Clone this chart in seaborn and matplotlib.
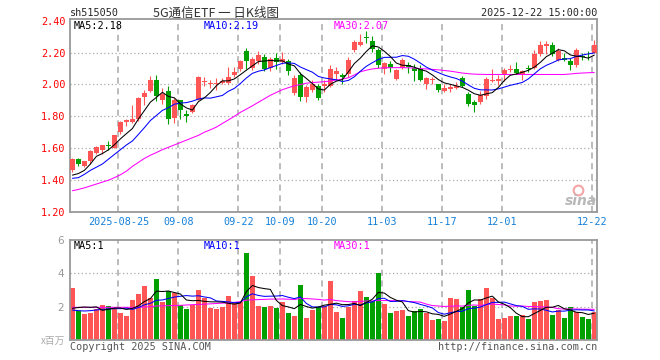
import numpy as np
import pandas as pd
import matplotlib
matplotlib.use("Agg")
import matplotlib.pyplot as plt
import seaborn as sns

# daily K-line of sh515050
open_ = [1.46, 1.53, 1.49, 1.52, 1.57, 1.585, 1.62, 1.60, 1.70, 1.765,
         1.765, 1.78, 1.92, 1.96, 2.03, 1.90, 1.96, 1.79, 1.90, 1.815,
         1.825, 1.90, 2.015, 2.00, 2.005, 2.01, 2.01, 2.06, 2.10, 2.21,
         2.105, 2.145, 2.17, 2.105, 2.165, 2.14, 2.15, 1.945, 2.06, 1.92,
         1.965, 1.99, 1.99, 1.99, 2.065, 2.06, 2.065, 2.22, 2.25, 2.30,
         2.275, 2.215, 2.10, 2.13, 2.035, 2.105, 2.125, 2.105, 2.10, 2.00,
         2.03, 2.00, 1.96, 1.97, 1.975, 2.04, 1.94, 1.89, 1.89, 1.93,
         2.025, 2.025, 2.06, 2.09, 2.095, 2.065, 2.10, 2.105, 2.19, 2.245,
         2.25, 2.155, 2.165, 2.145, 2.12, 2.18, 2.175, 2.20]
high = [1.54, 1.535, 1.52, 1.59, 1.615, 1.62, 1.645, 1.685, 1.77, 1.78,
        1.87, 1.92, 1.963, 2.053, 2.06, 1.98, 1.99, 1.913, 1.90, 1.84,
        1.88, 2.055, 2.05, 2.03, 2.04, 2.04, 2.11, 2.11, 2.155, 2.23,
        2.175, 2.21, 2.19, 2.175, 2.20, 2.206, 2.16, 2.06, 2.076, 1.997,
        2.03, 2.005, 2.03, 2.12, 2.11, 2.07, 2.17, 2.28, 2.32, 2.336,
        2.307, 2.23, 2.143, 2.145, 2.10, 2.165, 2.14, 2.127, 2.12, 2.049,
        2.05, 2.00, 2.00, 2.005, 2.015, 2.055, 1.95, 1.902, 1.96, 2.05,
        2.10, 2.06, 2.105, 2.125, 2.14, 2.09, 2.12, 2.217, 2.273, 2.273,
        2.27, 2.227, 2.20, 2.164, 2.227, 2.196, 2.21, 2.28]
low = [1.45, 1.49, 1.48, 1.50, 1.56, 1.56, 1.59, 1.60, 1.69, 1.74,
       1.755, 1.77, 1.87, 1.95, 1.896, 1.875, 1.753, 1.756, 1.783, 1.766,
       1.82, 1.90, 1.99, 1.98, 1.965, 2.00, 2.00, 2.05, 2.085, 2.10,
       2.09, 2.127, 2.085, 2.085, 2.10, 2.13, 2.06, 1.935, 1.896, 1.888,
       1.95, 1.905, 1.95, 1.985, 2.03, 2.00, 2.05, 2.205, 2.24, 2.26,
       2.206, 2.105, 2.064, 2.08, 2.03, 2.10, 2.07, 2.02, 2.02, 1.97,
       2.00, 1.95, 1.95, 1.95, 1.97, 1.985, 1.865, 1.825, 1.88, 1.909,
       2.015, 1.995, 2.02, 2.08, 2.064, 2.03, 2.08, 2.096, 2.18, 2.19,
       2.18, 2.148, 2.145, 2.09, 2.112, 2.155, 2.155, 2.195]
close = [1.53, 1.50, 1.52, 1.58, 1.61, 1.62, 1.615, 1.68, 1.765, 1.775,
         1.78, 1.915, 1.945, 2.03, 1.925, 1.94, 1.785, 1.90, 1.84, 1.80,
         1.87, 2.05, 2.02, 2.01, 2.01, 2.025, 2.05, 2.08, 2.145, 2.15,
         2.16, 2.185, 2.10, 2.16, 2.14, 2.16, 2.085, 2.04, 1.92, 1.985,
         2.00, 1.915, 2.005, 2.10, 2.085, 2.05, 2.155, 2.27, 2.27, 2.295,
         2.225, 2.12, 2.135, 2.105, 2.09, 2.155, 2.11, 2.085, 2.03, 2.04,
         2.035, 1.965, 1.98, 1.985, 1.99, 1.99, 1.875, 1.87, 1.935, 2.035,
         2.03, 2.035, 2.09, 2.10, 2.075, 2.085, 2.095, 2.19, 2.25, 2.255,
         2.19, 2.21, 2.155, 2.12, 2.215, 2.17, 2.17, 2.25]
# volume, x百万
volume = [3.14, 1.72, 1.58, 1.64, 1.86, 2.10, 2.04, 1.94, 1.64, 1.44,
          2.42, 2.78, 3.26, 2.52, 3.68, 2.30, 2.94, 2.80, 2.08, 1.88,
          2.08, 3.02, 2.54, 1.94, 1.86, 2.00, 2.66, 2.30, 2.30, 5.24,
          3.86, 2.04, 1.98, 2.06, 1.94, 2.30, 1.64, 1.46, 3.32, 1.34,
          1.80, 1.96, 2.04, 3.56, 1.70, 1.34, 2.00, 2.36, 2.94, 2.60,
          2.34, 4.04, 2.16, 1.64, 1.76, 1.80, 1.44, 1.74, 1.84, 1.64,
          1.20, 1.26, 1.16, 2.52, 2.46, 2.00, 3.00, 2.04, 2.46, 3.12,
          2.54, 1.28, 1.34, 1.44, 1.44, 1.50, 1.26, 2.30, 2.36, 2.40,
          1.50, 1.80, 1.32, 2.00, 1.70, 1.38, 1.26, 1.70]

# moving averages where the window starts before the chart
ma5_head = [1.43, 1.44, 1.46, 1.50]
ma10_head = [1.41, 1.414, 1.435, 1.46, 1.48, 1.50, 1.53, 1.56, 1.59]
ma30 = [1.332, 1.34, 1.35, 1.362, 1.374, 1.386, 1.398, 1.414, 1.432, 1.455,
        1.485, 1.51, 1.535, 1.555, 1.572, 1.59, 1.605, 1.62, 1.635, 1.65,
        1.665, 1.68, 1.70, 1.715, 1.732, 1.755, 1.777, 1.80, 1.825, 1.845,
        1.866, 1.888, 1.91, 1.932, 1.95, 1.967, 1.98, 1.992, 2.00, 2.008,
        2.012, 2.015, 2.018, 2.022, 2.028, 2.034, 2.042, 2.06, 2.08, 2.09,
        2.098, 2.102, 2.105, 2.106, 2.106, 2.106, 2.105, 2.103, 2.10, 2.098,
        2.095, 2.092, 2.088, 2.084, 2.078, 2.072, 2.068, 2.065, 2.064, 2.063,
        2.063, 2.063, 2.063, 2.063, 2.063, 2.063, 2.063, 2.063, 2.063, 2.063,
        2.063, 2.063, 2.063, 2.066, 2.07, 2.072, 2.074, 2.075]
vol_ma5_head = [1.90, 1.95, 1.98, 1.96]
vol_ma10_head = [1.80, 1.76, 1.74, 1.76, 1.80, 1.84, 1.86, 1.88, 1.88]
vol_ma30_head = [1.96] * 12 + [1.98, 2.00, 2.04, 2.05, 2.06, 2.07, 2.08, 2.10,
                               2.12, 2.13, 2.15, 2.17, 2.19, 2.21, 2.23, 2.26, 2.30]

tick_dates = ["2025-08-25", "2025-09-08", "2025-09-22", "2025-10-09", "2025-10-20",
              "2025-11-03", "2025-11-17", "2025-12-01", "2025-12-22"]
tick_labels = ["2025-08-25", "09-08", "09-22", "10-09", "10-20",
               "11-03", "11-17", "12-01", "12-22"]

# trading days (national day holiday closed)
dates = pd.bdate_range("2025-08-13", "2025-12-22")
dates = dates[~dates.isin(pd.date_range("2025-10-01", "2025-10-08"))]

df = pd.DataFrame({"date": dates, "open": open_, "high": high, "low": low,
                   "close": close, "volume": volume, "ma30": ma30})
df["x"] = np.arange(len(df))


def rolling_with_head(s, n, head):
    m = s.rolling(n).mean()
    m.iloc[:len(head)] = head
    return m


df["ma5"] = rolling_with_head(df["close"], 5, ma5_head)
df["ma10"] = rolling_with_head(df["close"], 10, ma10_head)
df["vma5"] = rolling_with_head(df["volume"], 5, vol_ma5_head)
df["vma10"] = rolling_with_head(df["volume"], 10, vol_ma10_head)
df["vma30"] = rolling_with_head(df["volume"], 30, vol_ma30_head)

RED = "#ff5555"
GREEN = "#00a000"
GRID = "#aaaaaa"
MONO = "DejaVu Sans Mono"

sns.set_style("white")
plt.rcParams["font.family"] = ["DejaVu Sans", "Noto Sans CJK SC"]

W, H = 660, 360
fig = plt.figure(figsize=(6.6, 3.6), dpi=100)


def box(l, t, r, b):
    return [l / W, 1 - b / H, (r - l) / W, (b - t) / H]


ax = fig.add_axes(box(70.3, 19.3, 597.3, 211.7))
axv = fig.add_axes(box(70.3, 240, 597.3, 340))

up = df["close"] >= df["open"]
colors = np.where(up, RED, GREEN)
tick_x = df.set_index("date").loc[pd.to_datetime(tick_dates), "x"].values - 0.33

for a in (ax, axv):
    for t in tick_x:
        a.axvline(t, color=GRID, lw=1.1, ls=(0, (4, 3)), zorder=0)
    for s in a.spines.values():
        s.set_color("#999999")
        s.set_linewidth(1.3)
    a.set_xlim(-0.35, 87.5)

# price panel
for v in [1.4, 1.6, 1.8, 2.0, 2.2]:
    ax.axhline(v, color=GRID, lw=0.9, ls=(0, (1, 2)), zorder=0)
ax.vlines(df["x"], df["low"], df["high"], colors=colors, lw=0.8, zorder=2)
body = np.maximum((df["close"] - df["open"]).abs(), 0.006)
ax.bar(df["x"], body, bottom=np.minimum(df["open"], df["close"]),
       width=0.75, color=colors, linewidth=0, zorder=3)
sns.lineplot(data=df, x="x", y="ma30", ax=ax, color="#ff00ff", lw=0.75, zorder=4)
sns.lineplot(data=df, x="x", y="ma10", ax=ax, color="#0000ff", lw=0.75, zorder=4)
sns.lineplot(data=df, x="x", y="ma5", ax=ax, color="black", lw=0.75, zorder=5)
ax.set_ylim(1.20, 2.41)
yt = [1.2, 1.4, 1.6, 1.8, 2.0, 2.2, 2.4]
ax.set_yticks(yt, [f"{v:.2f}" for v in yt], family=MONO, fontsize=7.3, color="#ff0000")
ax.set_xticks(tick_x, tick_labels, family=MONO, fontsize=7.3, color="#1580d8")
ax.tick_params(axis="y", length=0, pad=3.3)
ax.tick_params(axis="x", length=0, pad=3.5)
ax.set_xlabel("")
ax.set_ylabel("")

# volume panel
for v in [2, 4]:
    axv.axhline(v, color=GRID, lw=0.9, ls=(0, (1, 2)), zorder=0)
axv.bar(df["x"], df["volume"], width=0.82, color=colors, linewidth=0, zorder=2)
sns.lineplot(data=df, x="x", y="vma30", ax=axv, color="#ff00ff", lw=0.75, zorder=4)
sns.lineplot(data=df, x="x", y="vma10", ax=axv, color="#0000ff", lw=0.75, zorder=4)
sns.lineplot(data=df, x="x", y="vma5", ax=axv, color="black", lw=0.75, zorder=5)
axv.set_ylim(0, 6)
axv.set_yticks([2, 4, 6], ["2", "4", "6"], fontsize=7.5, color="#999999")
axv.set_xticks([])
axv.tick_params(axis="y", length=0, pad=4.5)
axv.set_xlabel("")
axv.set_ylabel("")


def ftext(x, y, s, **kw):
    kw.setdefault("va", "center")
    fig.text(x / W, 1 - y / H, s, **kw)


ftext(70, 13, "sh515050", family=MONO, fontsize=7.3)
ftext(216, 13, "5G通信ETF 一 日K线图", ha="center", fontsize=9,
      family=["Noto Sans CJK SC", "DejaVu Sans"], color="#333333")
ftext(597, 13, "2025-12-22 15:00:00", ha="right", family=MONO, fontsize=7.3)

ftext(74, 26, "MA5:2.18", family=MONO, fontsize=7.3, color="black")
ftext(204, 26, "MA10:2.19", family=MONO, fontsize=7.3, color="#0000ff")
ftext(334, 26, "MA30:2.07", family=MONO, fontsize=7.3, color="#ff00ff")
ftext(74, 246, "MA5:1", family=MONO, fontsize=7.3, color="black")
ftext(204, 246, "MA10:1", family=MONO, fontsize=7.3, color="#0000ff")
ftext(334, 246, "MA30:1", family=MONO, fontsize=7.3, color="#ff00ff")

ftext(65, 341, "x百万", ha="right", fontsize=7,
      family=["Noto Sans CJK SC", "DejaVu Sans"], color="#aaaaaa")
ftext(70, 347, "Copyright 2025 SINA.COM", family=MONO, fontsize=7.3, color="#555555")
ftext(597, 347, "http://finance.sina.com.cn", ha="right", family=MONO,
      fontsize=7.3, color="#555555")

# sina watermark
ftext(581, 201, "sina", ha="center", fontsize=10, weight="bold", style="italic",
      color="#b8b8b8")
ax.plot([(578.3 - 70.3) / 527], [(211.7 - 190) / 192.4], transform=ax.transAxes,
        marker="o", ms=7, mfc="none", mec="#f4a6a6", mew=1.5, zorder=1)

fig.savefig("out.png", dpi=100)
